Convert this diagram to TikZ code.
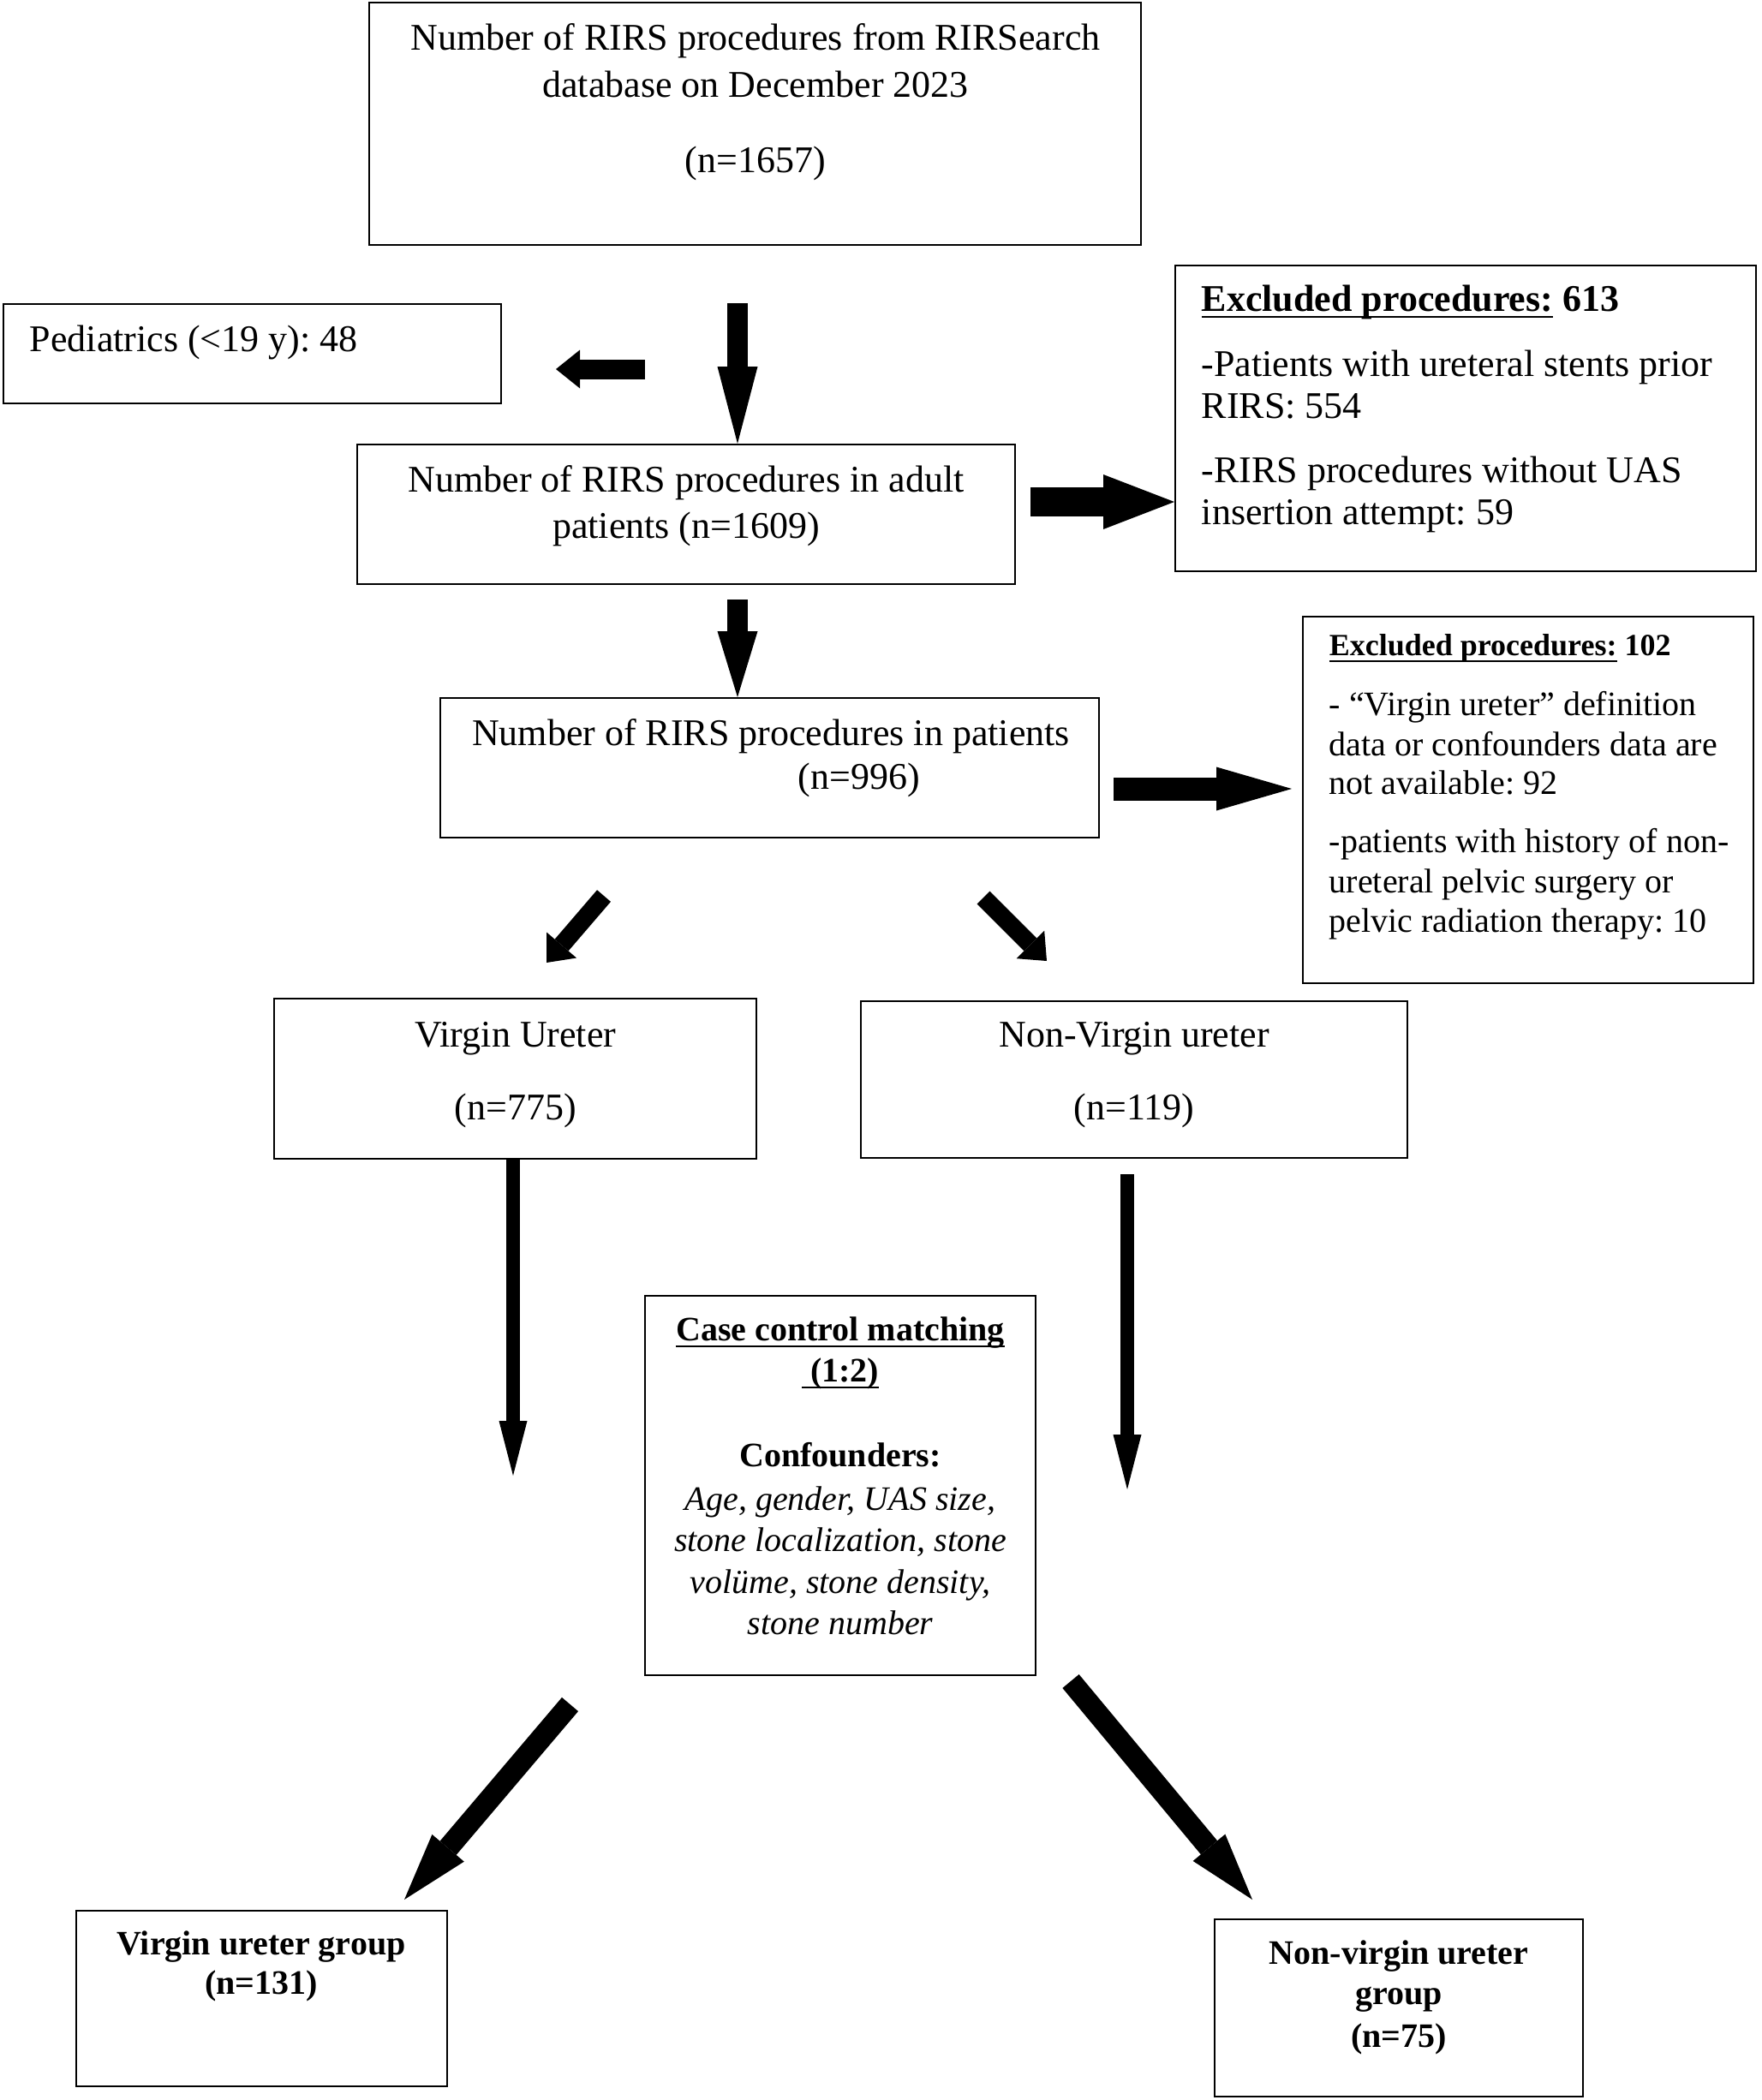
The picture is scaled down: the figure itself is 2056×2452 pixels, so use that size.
\documentclass[tikz,border=0pt]{standalone}
\usepackage{fontspec}
\setmainfont{Liberation Serif}
\usetikzlibrary{arrows.meta}
\frenchspacing
\newsavebox\ulbox
\newcommand\ulx[1]{\sbox\ulbox{#1}\rlap{\rule[-2pt]{\wd\ulbox}{0.55pt}}\usebox\ulbox}
\begin{document}
\frenchspacing
\begin{tikzpicture}[x=0.25pt,y=-0.25pt,
  box/.style={draw, line width=0.5pt, inner sep=0pt, rectangle},
  txt/.style={inner sep=0pt, anchor=base, font=\fontsize{11pt}{13pt}\selectfont},
  txtl/.style={txt, anchor=base west},
  smtxt/.style={font=\fontsize{10pt}{12pt}\selectfont},
  smbold/.style={font=\fontsize{10pt}{12pt}\selectfont\bfseries},
  smital/.style={font=\fontsize{10pt}{12pt}\selectfont\itshape},
  blk/.style n args={3}{line width=#1, -{Triangle[width=#2, length=#3, line width=0pt]}}
]
\fill[white] (0,0) rectangle (2056,2452);
\useasboundingbox (0,0) rectangle (2056,2452);

% boxes
\node[box, minimum width=225.25pt, minimum height=70.75pt] (top) at (881.5,144.5) {};
\node[box, minimum width=145.25pt, minimum height=29pt] (ped) at (294.5,413) {};
\node[box, minimum width=192pt, minimum height=40.75pt] (adult) at (801,600.5) {};
\node[box, minimum width=169.5pt, minimum height=89.25pt] (exa) at (1711,488.5) {};
\node[box, minimum width=192.25pt, minimum height=40.75pt] (pat) at (898.5,896.5) {};
\node[box, minimum width=131.5pt, minimum height=107pt] (exb) at (1784,934) {};
\node[box, minimum width=140.75pt, minimum height=46.75pt] (vu) at (601.5,1259.5) {};
\node[box, minimum width=159.5pt, minimum height=45.75pt] (nvu) at (1324,1260.5) {};
\node[box, minimum width=114pt, minimum height=110.75pt] (ccm) at (981,1734.5) {};
\node[box, minimum width=108.25pt, minimum height=51.25pt] (vug) at (305.5,2333.5) {};
\node[box, minimum width=107.5pt, minimum height=51.75pt] (nvg) at (1633,2344.5) {};

% texts
\node[txt] (top1) at (882,58) {Number of RIRS procedures from RIRSearch};
\node[txt] (top2) at (882,113) {database on December 2023};
\node[txt] (top3) at (882,201) {(n=1657)};
\node[txtl] (ped1) at (34,410) {Pediatrics (<19 y): 48};
\node[txt] (ad1) at (801,574) {Number of RIRS procedures in adult};
\node[txt] (ad2) at (801,628) {patients (n=1609)};
\node[txtl] (ea1) at (1402,363) {\textbf{\ulx{Excluded procedures:} 613}};
\node[txtl] (ea2) at (1402,439) {-Patients with ureteral stents prior};
\node[txtl] (ea3) at (1402,488) {RIRS: 554};
\node[txtl] (ea4) at (1402,563) {-RIRS procedures without UAS};
\node[txtl] (ea5) at (1402,612) {insertion attempt: 59};
\node[txt] (pt1) at (900,870) {Number of RIRS procedures in patients};
\node[txt] (pt2) at (1003,921) {(n=996)};
\node[txtl, font=\fontsize{9pt}{11pt}\selectfont\bfseries] (eb1) at (1551,765) {\ulx{Excluded procedures:} 102};
\node[txtl, smtxt] (eb2) at (1551,835) {- “Virgin ureter” definition};
\node[txtl, smtxt] (eb3) at (1551,882) {data or confounders data are};
\node[txtl, smtxt] (eb4) at (1551,927) {not available: 92};
\node[txtl, smtxt] (eb5) at (1551,995) {-patients with history of non-};
\node[txtl, smtxt] (eb6) at (1551,1042) {ureteral pelvic surgery or};
\node[txtl, smtxt] (eb7) at (1551,1088) {pelvic radiation therapy: 10};
\node[txt] (vu1) at (602,1222) {Virgin Ureter};
\node[txt] (vu2) at (602,1307) {(n=775)};
\node[txt] (nvu1) at (1324,1222) {Non-Virgin ureter};
\node[txt] (nvu2) at (1324,1307) {(n=119)};
\node[txt, smbold] (cc1) at (981,1565) {\ulx{Case control matching}};
\node[txt, smbold] (cc2) at (981,1613) {\ulx{\ (1:2)}};
\node[txt, smbold] (cc3) at (981,1712) {Confounders:};
\node[txt, smital] (cc4) at (981,1763) {Age, gender, UAS size,};
\node[txt, smital] (cc5) at (981,1811) {stone localization, stone};
\node[txt, smital] (cc6) at (981,1860) {volüme, stone density,};
\node[txt, smital] (cc7) at (981,1908) {stone number};
\node[txt, smbold] (vg1) at (305,2282) {Virgin ureter group};
\node[txt, smbold] (vg2) at (305,2328) {(n=131)};
\node[txt, smbold] (ng1) at (1633,2293) {Non-virgin ureter};
\node[txt, smbold] (ng2) at (1633,2340) {group};
\node[txt, smbold] (ng3) at (1633,2390) {(n=75)};

% arrows
\coordinate (a1s) at (861,354);
\draw[blk={6pt}{11.75pt}{22.5pt}] (a1s) -- (a1s |- adult.north);
\coordinate (a2s) at (753,431);
\coordinate (a2e) at (649,431);
\draw[blk={5.75pt}{11.25pt}{7pt}] (a2s) -- (a2e);
\coordinate (a3s) at (1203,586);
\draw[blk={8.5pt}{16pt}{20.75pt}] (a3s) -- (a3s -| exa.west);
\coordinate (a4s) at (861,700);
\draw[blk={6pt}{11.75pt}{19.25pt}] (a4s) -- (a4s |- pat.north);
\coordinate (a5s) at (1300,921);
\coordinate (a5e) at (1508,921);
\draw[blk={6.75pt}{12.75pt}{22pt}] (a5s) -- (a5e);
\coordinate (a6s) at (705,1046);
\coordinate (a6e) at (638,1124);
\draw[blk={5.25pt}{11.5pt}{6.75pt}] (a6s) -- (a6e);
\coordinate (a7s) at (1148,1048);
\coordinate (a7e) at (1222,1122);
\draw[blk={5.25pt}{11.5pt}{6.75pt}] (a7s) -- (a7e);
\coordinate (a8e) at (599,1723);
\draw[blk={4pt}{8.25pt}{16pt}] (a8e |- vu.south) -- (a8e);
\coordinate (a9s) at (1316,1371);
\coordinate (a9e) at (1316,1739);
\draw[blk={4pt}{8.25pt}{16pt}] (a9s) -- (a9e);
\coordinate (a10s) at (665.5,1990);
\coordinate (a10e) at (472,2218);
\draw[blk={6.25pt}{12.25pt}{19.75pt}] (a10s) -- (a10e);
\coordinate (a11s) at (1250,1963);
\coordinate (a11e) at (1462,2218);
\draw[blk={6.25pt}{12.25pt}{19.75pt}] (a11s) -- (a11e);
\end{tikzpicture}
\end{document}
